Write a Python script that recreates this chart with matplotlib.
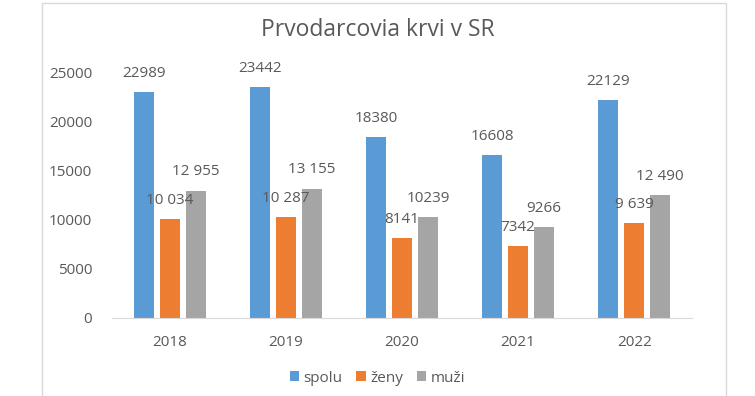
import matplotlib.pyplot as plt
import numpy as np
from matplotlib.patches import Rectangle

plt.rcParams['font.family'] = ['Open Sans', 'DejaVu Sans']

years = ["2018", "2019", "2020", "2021", "2022"]
spolu = [22989, 23442, 18380, 16608, 22129]
zeny = [10034, 10287, 8141, 7342, 9639]
muzi = [12955, 13155, 10239, 9266, 12490]
spolu_labels = ["22989", "23442", "18380", "16608", "22129"]
zeny_labels = ["10 034", "10 287", "8141", "7342", "9 639"]
muzi_labels = ["12 955", "13 155", "10239", "9266", "12 490"]

txt = "#595959"

fig = plt.figure(figsize=(7.55, 3.96), dpi=100)
ax = fig.add_axes([0.148, 0.197, 0.769, 0.621])

# chart border
fig.patches.append(Rectangle((42 / 755, -0.05), 684 / 755, 1.05 - 3 / 396,
                             transform=fig.transFigure, fill=False,
                             edgecolor="#D9D9D9", linewidth=1))

x = np.arange(len(years))
w = 0.172
off = 0.224
series = [
    (spolu, spolu_labels, "spolu", "#5B9BD5", -off),
    (zeny, zeny_labels, "ženy", "#ED7D31", 0),
    (muzi, muzi_labels, "muži", "#A5A5A5", off),
]
for vals, labs, name, col, o in series:
    bars = ax.bar(x + o, vals, w, color=col, label=name)
    ax.bar_label(bars, labels=labs, padding=8, fontsize=11, color=txt)

ax.set_xlim(-0.5, len(years) - 0.5)
ax.set_ylim(0, 25000)
ax.set_yticks(range(0, 25001, 5000))
ax.set_xticks(x)
ax.set_xticklabels(years)
ax.tick_params(length=0, labelsize=11, colors=txt)
ax.tick_params(axis='y', pad=14)
ax.tick_params(axis='x', pad=12)
for s in ["top", "right", "left"]:
    ax.spines[s].set_visible(False)
ax.spines["bottom"].set_color("#D9D9D9")

fig.suptitle("Prvodarcovia krvi v SR", x=0.5, y=0.955, fontsize=16.5, color=txt)

leg = fig.legend(loc="center", bbox_to_anchor=(0.5, 0.045), ncol=3, frameon=False,
                 fontsize=11, handlelength=0.6, handleheight=0.6, handletextpad=0.3,
                 columnspacing=0.9, labelcolor=txt)

fig.savefig("out.png", dpi=100)
